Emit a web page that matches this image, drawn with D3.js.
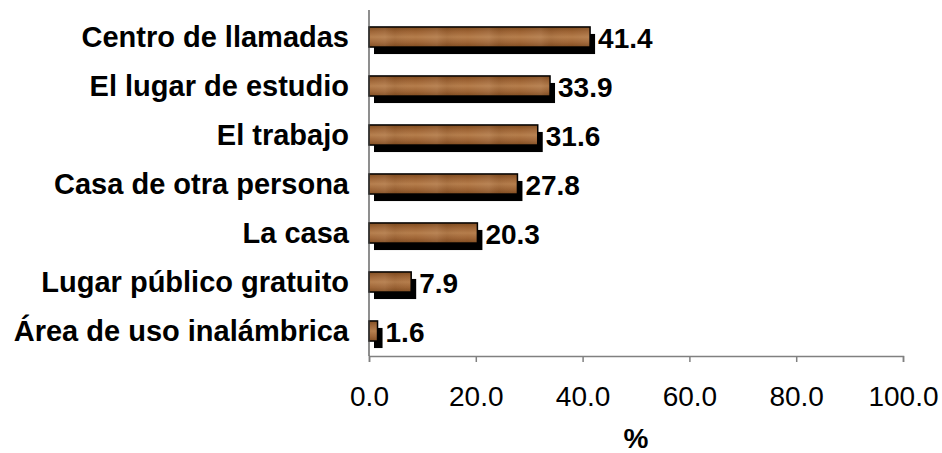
<!DOCTYPE html>
<html>
<head>
<meta charset="utf-8">
<script src="https://cdn.jsdelivr.net/npm/d3@7"></script>
<style>
body { margin: 0; background: #fff; font-family: "Liberation Sans", Arial, sans-serif; }
.axis--y text { font-size: 29px; font-weight: bold; fill: #000; }
.axis--x text { font-size: 28px; fill: #000; }
.axis--x .domain, .axis--x line { stroke: #808080; stroke-width: 1.5; }
.axis--y .domain { stroke: #444; stroke-width: 1.2; }
.value_label { font-size: 28px; font-weight: bold; }
.axis-label { font-size: 28px; font-weight: bold; }
</style>
</head>
<body>
<div class="content"></div>
<script>
var categories = ["Centro de llamadas", "El lugar de estudio", "El trabajo", "Casa de otra persona",
                  "La casa", "Lugar público gratuito", "Área de uso inalámbrica"];
var values = [41.4, 33.9, 31.6, 27.8, 20.3, 7.9, 1.6];
var tickValues = [0, 20, 40, 60, 80, 100];

var width = 942, height = 453;
var shadow = { dx: 5, dy: 7 };

var svg = d3.select(".content").append("svg")
    .attr("width", width).attr("height", height);

// wood-ish fill
var defs = svg.append("defs");
var grad = defs.append("linearGradient")
    .attr("id", "wood").attr("x1", 0).attr("y1", 0).attr("x2", 0).attr("y2", 1);
[[0, "#7e4a1d"], [0.22, "#9c6233"], [0.5, "#b57d4b"], [0.78, "#9d6334"], [1, "#7f4b1f"]]
    .forEach(function (s) { grad.append("stop").attr("offset", s[0]).attr("stop-color", s[1]); });

var streak = defs.append("linearGradient")
    .attr("id", "streak").attr("x1", 0).attr("y1", 0).attr("x2", 1).attr("y2", 0)
    .attr("spreadMethod", "repeat").attr("gradientUnits", "userSpaceOnUse")
    .attr("x2", 52);
[[0, "#fff", 0], [0.4, "#fff", 0.06], [0.6, "#000", 0.04], [1, "#fff", 0]]
    .forEach(function (s) {
        streak.append("stop").attr("offset", s[0]).attr("stop-color", s[1]).attr("stop-opacity", s[2]);
    });

var x = d3.scaleLinear().domain([0, 100]).range([369, 903]);
var y = d3.scaleBand().domain(categories).range([12.5, 355.5])
    .paddingInner(0.59).paddingOuter(0.295);

var data = categories.map(function (c, i) { return { cat: c, value: values[i] }; });

// shadows
svg.selectAll(".shadow")
    .data(data)
  .enter().append("rect")
    .attr("class", "shadow")
    .attr("x", x(0) + shadow.dx)
    .attr("y", function (d) { return y(d.cat) + shadow.dy; })
    .attr("width", function (d) { return x(d.value) - x(0); })
    .attr("height", y.bandwidth())
    .style("fill", "#000");

// bars
var bars = svg.selectAll(".bar")
    .data(data)
  .enter().append("g").attr("class", "bar");

bars.append("rect")
    .attr("x", x(0))
    .attr("y", function (d) { return y(d.cat); })
    .attr("width", function (d) { return x(d.value) - x(0); })
    .attr("height", y.bandwidth())
    .style("fill", "url(#wood)")
    .style("stroke", "#000")
    .style("stroke-width", 1.5);

bars.append("rect")
    .attr("x", x(0))
    .attr("y", function (d) { return y(d.cat) + 1; })
    .attr("width", function (d) { return Math.max(0, x(d.value) - x(0) - 1); })
    .attr("height", y.bandwidth() - 2)
    .style("fill", "url(#streak)");

// value labels
svg.selectAll(".value_label")
    .data(data)
  .enter().append("text")
    .attr("class", "value_label")
    .attr("x", function (d) { return x(d.value) + shadow.dx + 3; })
    .attr("y", function (d) { return y(d.cat) + y.bandwidth() / 2 + 11; })
    .text(function (d) { return d.value.toFixed(1); });

// axes
svg.append("g")
    .attr("class", "axis axis--x")
    .attr("transform", "translate(0,356)")
    .call(d3.axisBottom(x).tickValues(tickValues).tickSize(6).tickPadding(24)
        .tickFormat(d3.format(".1f")))
    .selectAll("text").style("font-family", "Liberation Sans, Arial, sans-serif");

svg.append("g")
    .attr("class", "axis axis--y")
    .attr("transform", "translate(369,0)")
    .call(d3.axisLeft(y).tickSize(0).tickPadding(20))
    .selectAll("text")
    .attr("dy", "0.36em")
    .style("font-family", "Liberation Sans, Arial, sans-serif");

svg.select(".axis--y .domain").attr("d", "M0,10V356");

svg.append("text")
    .attr("class", "axis-label")
    .attr("x", (x(0) + x(100)) / 2)
    .attr("y", 448)
    .attr("text-anchor", "middle")
    .text("%");
</script>
</body>
</html>
